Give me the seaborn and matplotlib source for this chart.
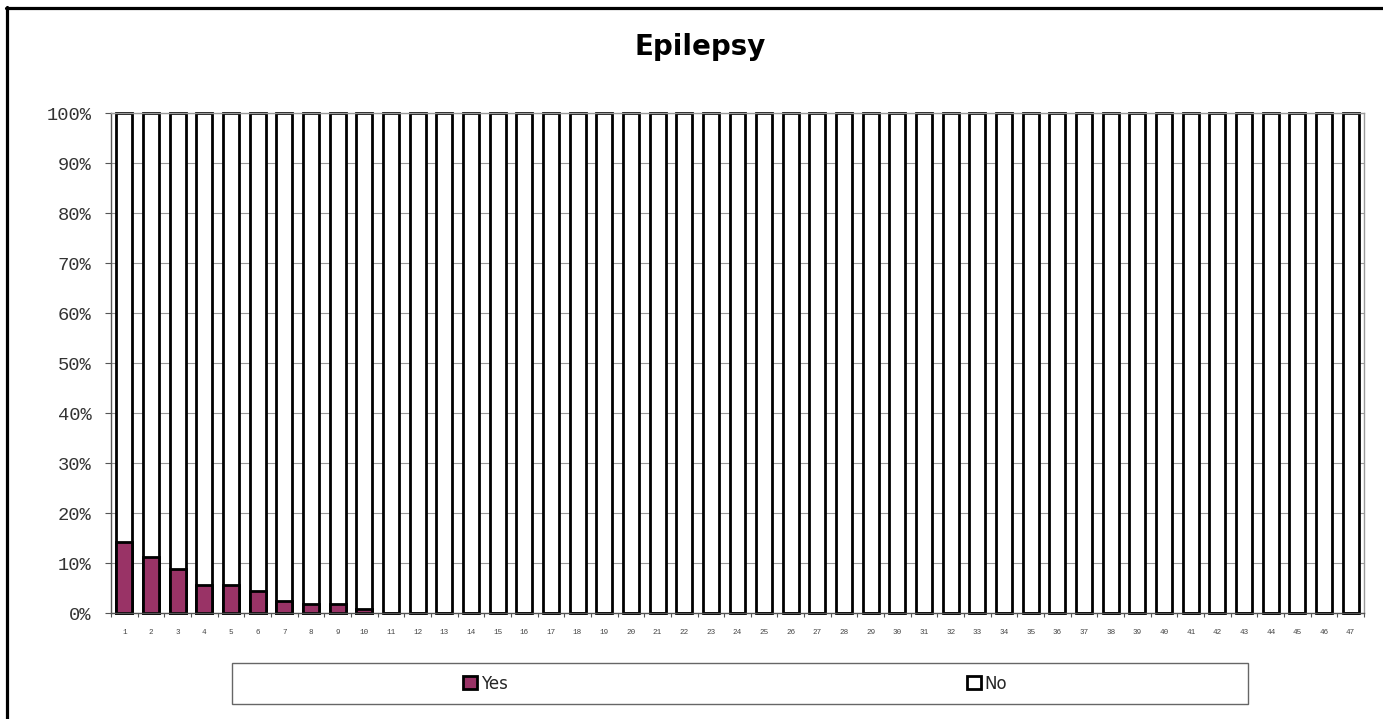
import matplotlib
matplotlib.use("Agg")
import matplotlib.pyplot as plt
from matplotlib.patches import Patch, Rectangle
from matplotlib.lines import Line2D
from matplotlib.ticker import FixedLocator, PercentFormatter
import numpy as np
import pandas as pd
import seaborn as sns

# ---- data ----
categories = [str(i) for i in range(1, 48)]
yes_pct = [14.3, 11.3, 8.8, 5.6, 5.6, 4.5, 2.4, 1.9, 1.8, 0.9] + [0.0] * 37
no_pct = [100.0 - v for v in yes_pct]
series_names = ["Yes", "No"]
y_ticks = [0, 10, 20, 30, 40, 50, 60, 70, 80, 90, 100]
title_text = "Epilepsy"

YES_COLOR = "#993366"

df = pd.DataFrame({"cat": categories, "Yes": yes_pct, "No": no_pct})
df["total"] = df["Yes"] + df["No"]

sns.set_theme(style="white")
plt.rcParams["font.family"] = ["DejaVu Sans"]

W, H = 1383, 719
fig = plt.figure(figsize=(W / 100, H / 100), dpi=100)
L, R, T, B = 111, 1364, 113, 613.3
ax = fig.add_axes([L / W, 1 - B / H, (R - L) / W, (B - T) / H])

# grid behind
ax.set_axisbelow(True)
ax.yaxis.grid(True, color="#9a9a9a", linewidth=0.8)
ax.xaxis.grid(False)

# stacked (No on top of Yes): total bar then Yes overlay
sns.barplot(data=df, x="cat", y="total", order=categories, color="white",
            edgecolor="black", linewidth=2.0, width=0.6, saturation=1,
            ax=ax, errorbar=None)
sns.barplot(data=df, x="cat", y="Yes", order=categories, color=YES_COLOR,
            edgecolor="black", linewidth=2.0, width=0.6, saturation=1,
            ax=ax, errorbar=None)
for p in ax.patches:
    p.set_clip_on(False)

ax.set_xlim(-0.5, len(categories) - 0.5)
ax.set_ylim(0, 100)
ax.set_xlabel("")
ax.set_ylabel("")

# y axis
ax.yaxis.set_major_locator(FixedLocator(y_ticks))
ax.yaxis.set_major_formatter(PercentFormatter(decimals=0))
ax.tick_params(axis="y", which="major", direction="out", length=4, width=0.8,
               color="#555555", pad=10, labelsize=13.5, labelcolor="#333333",
               left=True)
for lab in ax.get_yticklabels():
    lab.set_family("Liberation Mono")

# x axis
ax.xaxis.set_minor_locator(FixedLocator(np.arange(-0.5, len(categories), 1.0)))
ax.tick_params(axis="x", which="major", length=0, pad=11, labelsize=5.5,
               labelcolor="#444444")
ax.tick_params(axis="x", which="minor", direction="out", length=3, width=0.8,
               color="#555555", bottom=True)
for lab in ax.get_xticklabels():
    lab.set_family("Liberation Mono")

# spines
for s in ["left", "bottom"]:
    ax.spines[s].set_color("#555555")
    ax.spines[s].set_linewidth(1.0)
for s in ["top", "right"]:
    ax.spines[s].set_visible(True)
    ax.spines[s].set_color("#9a9a9a")
    ax.spines[s].set_linewidth(1.0)

# title
fig.text(700 / W, 1 - 47 / H, title_text, ha="center", va="center",
         fontsize=20, fontweight="bold", color="black")

# legend box
bx0, bx1, by0, by1 = 231.7, 1248.3, 663.3, 704
fig.patches.append(Rectangle((bx0 / W, 1 - by1 / H), (bx1 - bx0) / W, (by1 - by0) / H,
                             transform=fig.transFigure, facecolor="white",
                             edgecolor="#666666", linewidth=1.0))
handles = [Patch(facecolor=YES_COLOR, edgecolor="black", linewidth=2.0),
           Patch(facecolor="white", edgecolor="black", linewidth=2.0)]
fig.legend(handles, series_names, ncol=2, frameon=False,
           loc="center left", bbox_to_anchor=(463 / W, 1 - 683.6 / H),
           borderpad=0, borderaxespad=0, fontsize=12,
           handlelength=0.85, handleheight=0.85, handletextpad=0.25,
           columnspacing=27.5)

# figure frame (top and left)
fig.add_artist(Line2D([6 / W, 1.0], [1 - 8 / H, 1 - 8 / H], color="black",
                      linewidth=2.3, transform=fig.transFigure))
fig.add_artist(Line2D([7 / W, 7 / W], [0, 1 - 7 / H], color="black",
                      linewidth=2.3, transform=fig.transFigure))

fig.savefig("out.png", dpi=100, facecolor="white")
